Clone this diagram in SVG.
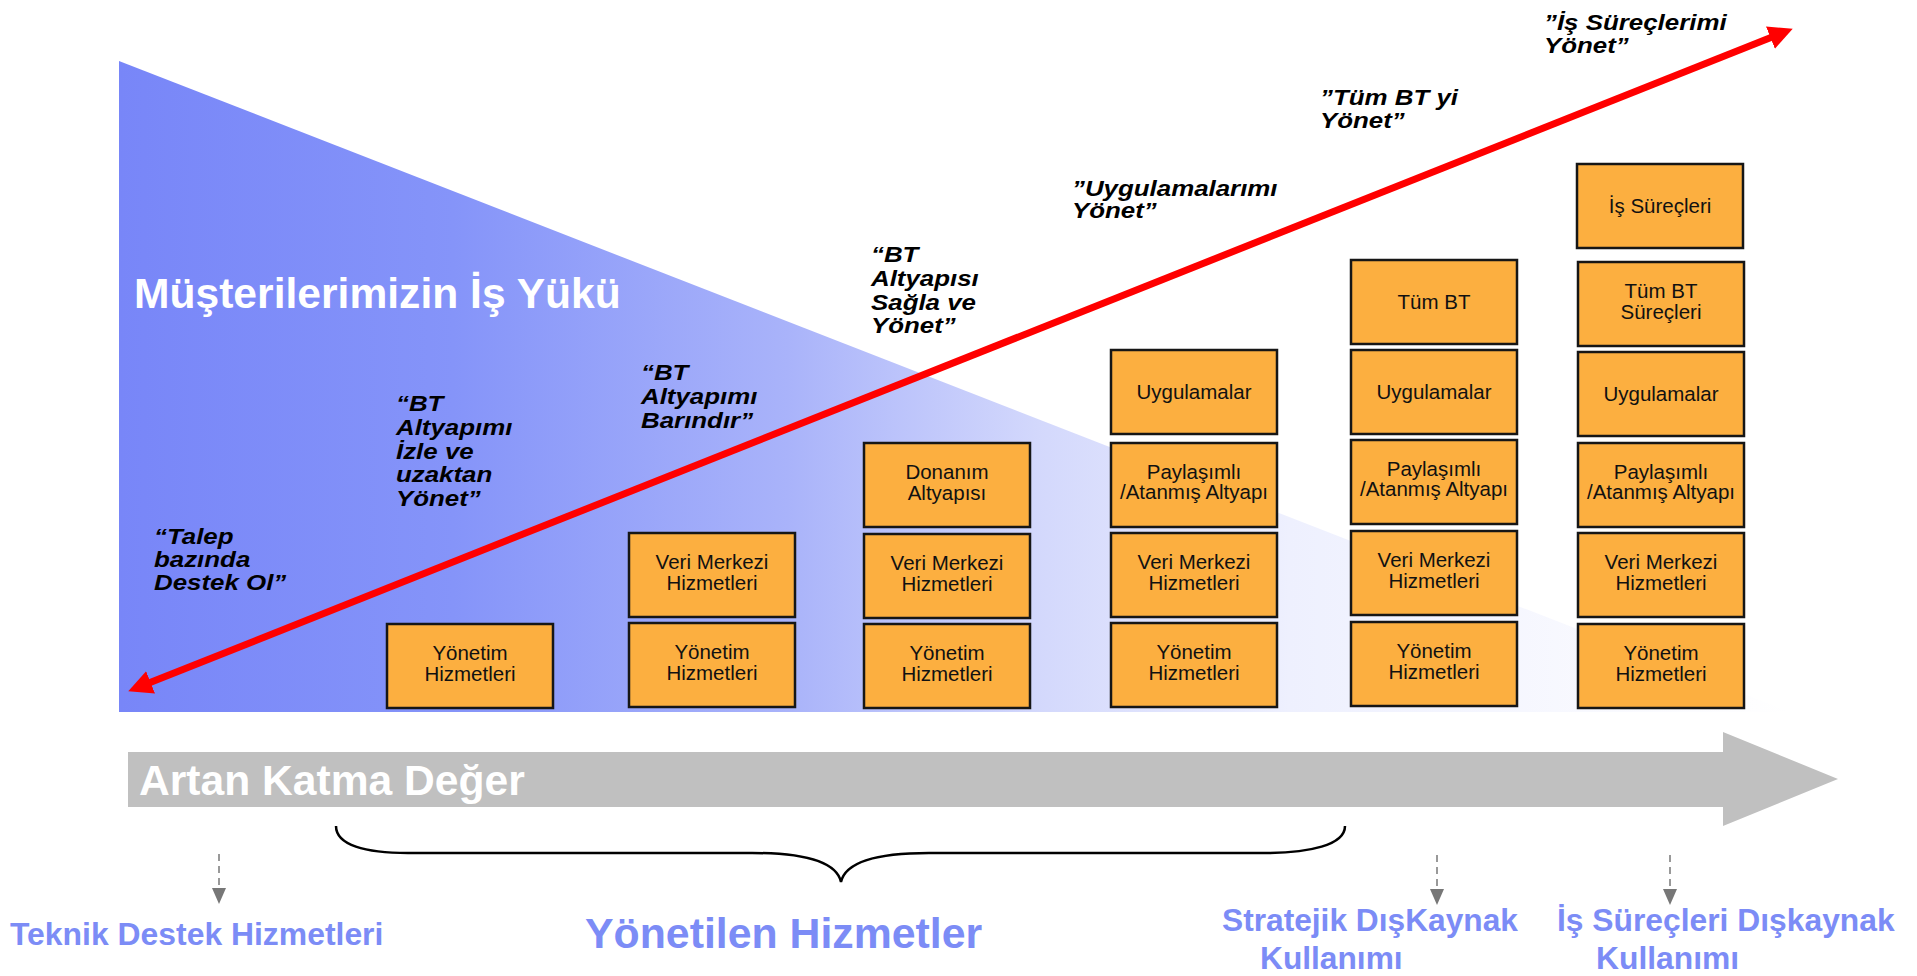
<svg xmlns="http://www.w3.org/2000/svg" width="1917" height="976" viewBox="0 0 1917 976">
<style>
.box{fill:#FCAF40;stroke:#161616;stroke-width:2.5}
.bt{font-family:"Liberation Sans",Arial,sans-serif;font-size:20.5px;fill:#111;text-anchor:middle}
.q{font-family:"Liberation Sans",Arial,sans-serif;font-size:22.8px;font-weight:bold;font-style:italic;fill:#000}
.lbl{font-family:"Liberation Sans",Arial,sans-serif;font-weight:bold;fill:#7C8CF6}
.wt{font-family:"Liberation Sans",Arial,sans-serif;font-weight:bold;font-size:42.6px;fill:#fff}
.dash{stroke:#808080;stroke-width:1.6;stroke-dasharray:7,5}
</style>
<defs>
<linearGradient id="wl" gradientUnits="userSpaceOnUse" x1="119" y1="0" x2="1790" y2="0">
<stop offset="0" stop-color="#7886F8"/>
<stop offset="0.2" stop-color="#8594F9"/>
<stop offset="0.4" stop-color="#A9B3FA"/>
<stop offset="0.55" stop-color="#D3D8FC"/>
<stop offset="0.7" stop-color="#EEF0FE"/>
<stop offset="1" stop-color="#FFFFFF"/>
</linearGradient>
<marker id="rh" markerUnits="userSpaceOnUse" markerWidth="24" markerHeight="24" refX="5" refY="11.5" orient="auto-start-reverse" viewBox="0 0 23 23">
<path d="M0,0 L23,11.5 L0,23 z" fill="#FF0000"/>
</marker>
<marker id="gh" markerUnits="userSpaceOnUse" markerWidth="16" markerHeight="14" refX="0" refY="7" orient="auto" viewBox="0 0 16 14">
<path d="M0,0 L16,7 L0,14 z" fill="#777"/>
</marker>
</defs>

<g id="workload">
<polygon points="119,61 119,712 1790,712" fill="url(#wl)"/>
<text class="wt" x="134" y="308">Müşterilerimizin İş Yükü</text>
</g>

<g id="value-arrow">
<polygon points="128,752 1723,752 1723,732 1838,779 1723,826 1723,807 128,807" fill="#C0C0C0"/>
<text class="wt" x="139" y="795">Artan Katma Değer</text>
</g>

<g id="quotes">
<g id="q1" transform="translate(154,543.5) scale(1.135,1)"><text class="q"><tspan x="0" y="0">“Talep</tspan><tspan x="0" y="23.3">bazında</tspan><tspan x="0" y="46.6">Destek Ol”</tspan></text></g>
<g id="q2" transform="translate(396,411) scale(1.135,1)"><text class="q"><tspan x="0" y="0">“BT</tspan><tspan x="0" y="23.8">Altyapımı</tspan><tspan x="0" y="47.6">İzle ve</tspan><tspan x="0" y="71.4">uzaktan</tspan><tspan x="0" y="95.2">Yönet”</tspan></text></g>
<g id="q3" transform="translate(641,380) scale(1.135,1)"><text class="q"><tspan x="0" y="0">“BT</tspan><tspan x="0" y="23.8">Altyapımı</tspan><tspan x="0" y="47.6">Barındır”</tspan></text></g>
<g id="q4" transform="translate(871,262) scale(1.135,1)"><text class="q"><tspan x="0" y="0">“BT</tspan><tspan x="0" y="23.8">Altyapısı</tspan><tspan x="0" y="47.6">Sağla ve</tspan><tspan x="0" y="71.4">Yönet”</tspan></text></g>
<g id="q5" transform="translate(1072,196) scale(1.135,1)"><text class="q"><tspan x="0" y="0">”Uygulamalarımı</tspan><tspan x="0" y="22.5">Yönet”</tspan></text></g>
<g id="q6" transform="translate(1320,105) scale(1.135,1)"><text class="q"><tspan x="0" y="0">”Tüm BT yi</tspan><tspan x="0" y="23">Yönet”</tspan></text></g>
<g id="q7" transform="translate(1544,30) scale(1.135,1)"><text class="q"><tspan x="0" y="0">”İş Süreçlerimi</tspan><tspan x="0" y="23">Yönet”</tspan></text></g>
</g>

<g id="c1-yonetim"><rect class="box" x="387" y="624" width="166" height="84"/><text class="bt"><tspan x="470" y="660">Yönetim</tspan><tspan x="470" y="680.5">Hizmetleri</tspan></text></g>

<g id="c2-veri"><rect class="box" x="629" y="533" width="166" height="84"/><text class="bt"><tspan x="712" y="569">Veri Merkezi</tspan><tspan x="712" y="589.5">Hizmetleri</tspan></text></g>
<g id="c2-yonetim"><rect class="box" x="629" y="623" width="166" height="84"/><text class="bt"><tspan x="712" y="659">Yönetim</tspan><tspan x="712" y="679.5">Hizmetleri</tspan></text></g>

<g id="c3-donanim"><rect class="box" x="864" y="443" width="166" height="84"/><text class="bt"><tspan x="947" y="479">Donanım</tspan><tspan x="947" y="499.5">Altyapısı</tspan></text></g>
<g id="c3-veri"><rect class="box" x="864" y="534" width="166" height="84"/><text class="bt"><tspan x="947" y="570">Veri Merkezi</tspan><tspan x="947" y="590.5">Hizmetleri</tspan></text></g>
<g id="c3-yonetim"><rect class="box" x="864" y="624" width="166" height="84"/><text class="bt"><tspan x="947" y="660">Yönetim</tspan><tspan x="947" y="680.5">Hizmetleri</tspan></text></g>

<g id="c4-uyg"><rect class="box" x="1111" y="350" width="166" height="84"/><text class="bt" x="1194" y="399">Uygulamalar</text></g>
<g id="c4-pay"><rect class="box" x="1111" y="443" width="166" height="84"/><text class="bt"><tspan x="1194" y="478.5">Paylaşımlı</tspan><tspan x="1194" y="499">/Atanmış Altyapı</tspan></text></g>
<g id="c4-veri"><rect class="box" x="1111" y="533" width="166" height="84"/><text class="bt"><tspan x="1194" y="569">Veri Merkezi</tspan><tspan x="1194" y="589.5">Hizmetleri</tspan></text></g>
<g id="c4-yonetim"><rect class="box" x="1111" y="623" width="166" height="84"/><text class="bt"><tspan x="1194" y="659">Yönetim</tspan><tspan x="1194" y="679.5">Hizmetleri</tspan></text></g>

<g id="c5-tumbt"><rect class="box" x="1351" y="260" width="166" height="84"/><text class="bt" x="1434" y="309">Tüm BT</text></g>
<g id="c5-uyg"><rect class="box" x="1351" y="350" width="166" height="84"/><text class="bt" x="1434" y="399">Uygulamalar</text></g>
<g id="c5-pay"><rect class="box" x="1351" y="440" width="166" height="84"/><text class="bt"><tspan x="1434" y="475.5">Paylaşımlı</tspan><tspan x="1434" y="496">/Atanmış Altyapı</tspan></text></g>
<g id="c5-veri"><rect class="box" x="1351" y="531" width="166" height="84"/><text class="bt"><tspan x="1434" y="567">Veri Merkezi</tspan><tspan x="1434" y="587.5">Hizmetleri</tspan></text></g>
<g id="c5-yonetim"><rect class="box" x="1351" y="622" width="166" height="84"/><text class="bt"><tspan x="1434" y="658">Yönetim</tspan><tspan x="1434" y="678.5">Hizmetleri</tspan></text></g>

<g id="c6-is"><rect class="box" x="1577" y="164" width="166" height="84"/><text class="bt" x="1660" y="213">İş Süreçleri</text></g>
<g id="c6-tumbt"><rect class="box" x="1578" y="262" width="166" height="84"/><text class="bt"><tspan x="1661" y="298">Tüm BT</tspan><tspan x="1661" y="318.5">Süreçleri</tspan></text></g>
<g id="c6-uyg"><rect class="box" x="1578" y="352" width="166" height="84"/><text class="bt" x="1661" y="401">Uygulamalar</text></g>
<g id="c6-pay"><rect class="box" x="1578" y="443" width="166" height="84"/><text class="bt"><tspan x="1661" y="478.5">Paylaşımlı</tspan><tspan x="1661" y="499">/Atanmış Altyapı</tspan></text></g>
<g id="c6-veri"><rect class="box" x="1578" y="533" width="166" height="84"/><text class="bt"><tspan x="1661" y="569">Veri Merkezi</tspan><tspan x="1661" y="589.5">Hizmetleri</tspan></text></g>
<g id="c6-yonetim"><rect class="box" x="1578" y="624" width="166" height="84"/><text class="bt"><tspan x="1661" y="660">Yönetim</tspan><tspan x="1661" y="680.5">Hizmetleri</tspan></text></g>

<g id="labels">
<text class="lbl" x="10" y="945" font-size="31.9">Teknik Destek Hizmetleri</text>
<text class="lbl" x="585" y="948" font-size="42.8">Yönetilen Hizmetler</text>
<text class="lbl" x="1222" y="931" font-size="31.7">Stratejik DışKaynak</text>
<text class="lbl" x="1260" y="969" font-size="31.7">Kullanımı</text>
<text class="lbl" x="1557" y="931" font-size="31.8">İş Süreçleri Dışkaynak</text>
<text class="lbl" x="1596" y="969" font-size="31.8">Kullanımı</text>
</g>

<g id="connectors">
<line x1="145.7" y1="684.3" x2="1775.3" y2="35.7" stroke="#FF0000" stroke-width="7" marker-start="url(#rh)" marker-end="url(#rh)"/>
<path d="M336,826 C336,845 365,853 408,853 L752,853 C800,853 836,860 841,882 C846,860 882,853 929,853 L1263,853 C1310,853 1345,845 1345,826" fill="none" stroke="#000" stroke-width="2.5"/>
<line class="dash" x1="219" y1="854" x2="219" y2="888" marker-end="url(#gh)"/>
<line class="dash" x1="1437" y1="855" x2="1437" y2="889" marker-end="url(#gh)"/>
<line class="dash" x1="1670" y1="855" x2="1670" y2="889" marker-end="url(#gh)"/>
</g>
</svg>
